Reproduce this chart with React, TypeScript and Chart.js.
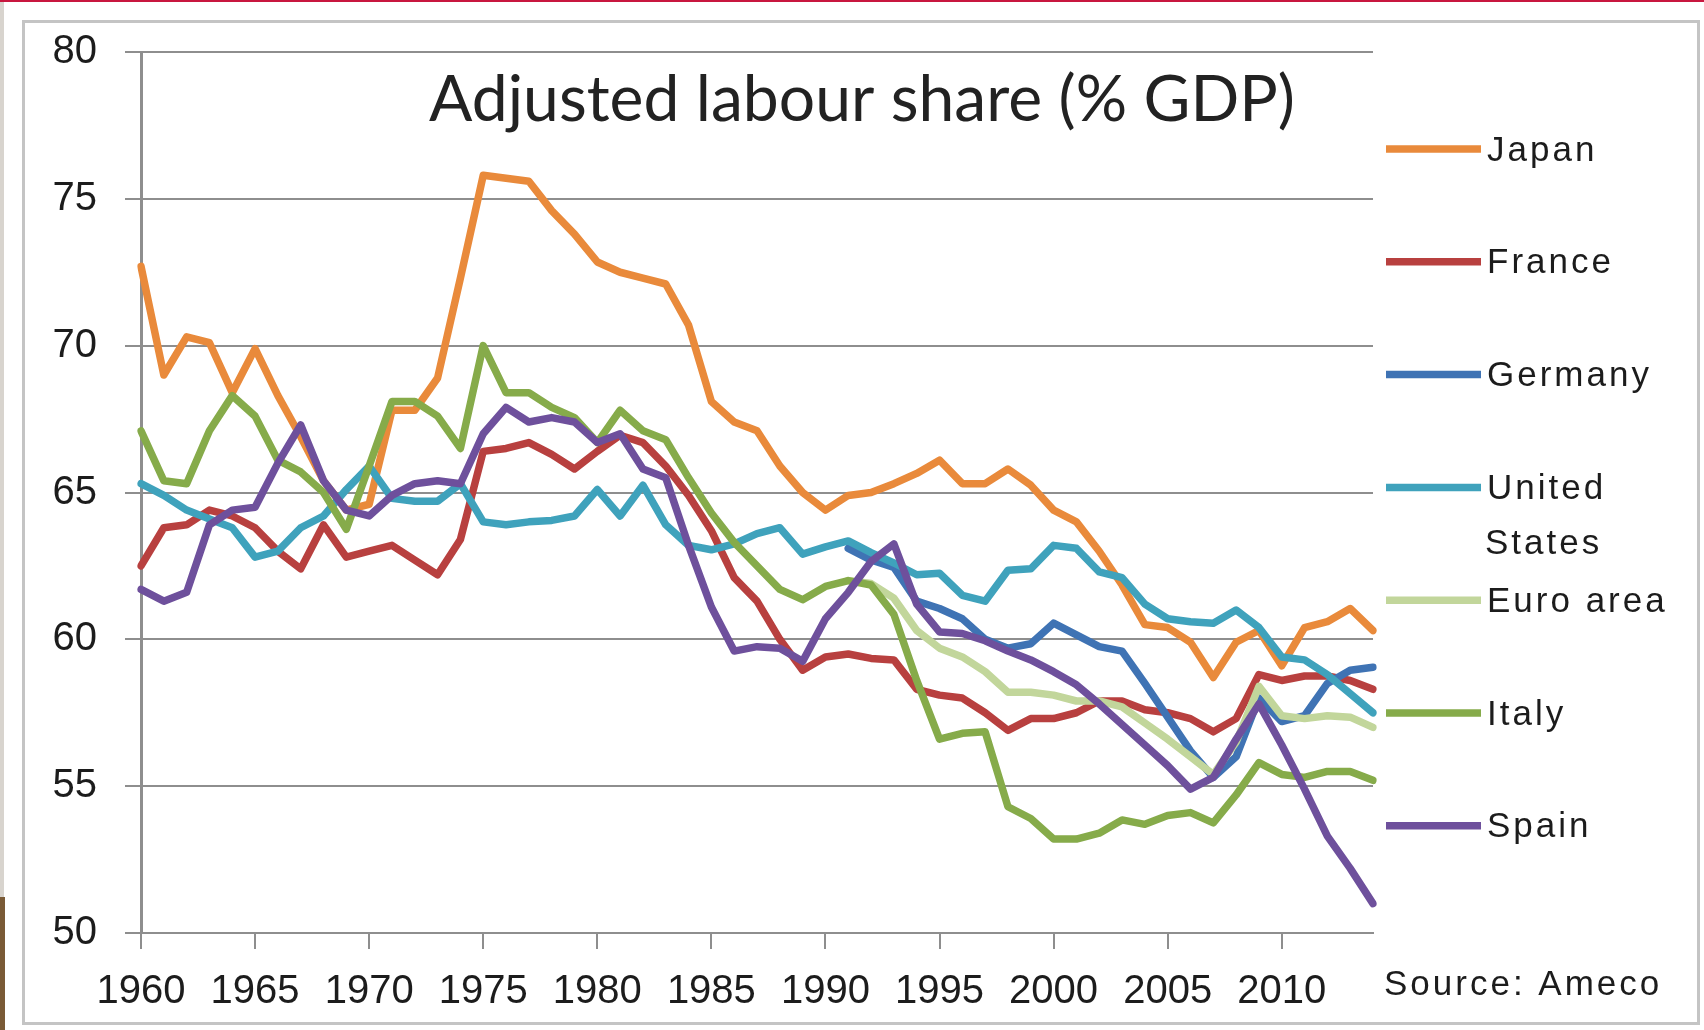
import React, { useEffect, useRef } from "react";
import { Chart, registerables } from "chart.js";

Chart.register(...registerables);

// ---------- DATA ----------
const years: number[] = [
  1960, 1961, 1962, 1963, 1964, 1965, 1966, 1967, 1968, 1969,
  1970, 1971, 1972, 1973, 1974, 1975, 1976, 1977, 1978, 1979,
  1980, 1981, 1982, 1983, 1984, 1985, 1986, 1987, 1988, 1989,
  1990, 1991, 1992, 1993, 1994, 1995, 1996, 1997, 1998, 1999,
  2000, 2001, 2002, 2003, 2004, 2005, 2006, 2007, 2008, 2009,
  2010, 2011, 2012, 2013, 2014,
];

const japan: (number | null)[] = [
  72.7, 69.0, 70.3, 70.1, 68.4, 69.9, 68.3, 66.9, 65.4, 64.4,
  64.6, 67.8, 67.8, 68.9, 72.3, 75.8, 75.7, 75.6, 74.6, 73.8,
  72.85, 72.5, 72.3, 72.1, 70.7, 68.1, 67.4, 67.1, 65.9, 65.0,
  64.4, 64.9, 65.0, 65.3, 65.65, 66.1, 65.3, 65.3, 65.8, 65.25,
  64.4, 64.0, 63.0, 61.85, 60.5, 60.4, 59.9, 58.7, 59.9, 60.3,
  59.1, 60.4, 60.6, 61.05, 60.3,
];

const france: (number | null)[] = [
  62.5, 63.8, 63.9, 64.4, 64.2, 63.8, 63.0, 62.4, 63.9, 62.8,
  63.0, 63.2, 62.7, 62.2, 63.4, 66.4, 66.5, 66.7, 66.3, 65.8,
  66.4, 66.95, 66.7, 65.9, 64.9, 63.7, 62.1, 61.3, 60.0, 58.95,
  59.4, 59.5, 59.35, 59.3, 58.3, 58.1, 58.0, 57.5, 56.9, 57.3,
  57.3, 57.5, 57.9, 57.9, 57.6, 57.5, 57.3, 56.85, 57.3, 58.8,
  58.6, 58.75, 58.75, 58.6, 58.3,
];

const germany: (number | null)[] = [
  null, null, null, null, null, null, null, null, null, null,
  null, null, null, null, null, null, null, null, null, null,
  null, null, null, null, null, null, null, null, null, null,
  null, 63.1, 62.7, 62.45, 61.3, 61.05, 60.7, 60.0, 59.7, 59.85,
  60.55, 60.15, 59.75, 59.6, 58.5, 57.35, 56.2, 55.3, 56.0, 58.0,
  57.2, 57.4, 58.5, 58.95, 59.05,
];

const unitedStates: (number | null)[] = [
  65.3, 64.9, 64.4, 64.1, 63.8, 62.8, 63.0, 63.8, 64.2, 65.1,
  65.9, 64.8, 64.7, 64.7, 65.3, 64.0, 63.9, 64.0, 64.05, 64.2,
  65.1, 64.2, 65.25, 63.9, 63.2, 63.05, 63.25, 63.6, 63.8, 62.9,
  63.15, 63.35, 62.95, 62.6, 62.2, 62.25, 61.5, 61.3, 62.35, 62.4,
  63.2, 63.1, 62.3, 62.1, 61.2, 60.7, 60.6, 60.55, 61.0, 60.4,
  59.4, 59.3, 58.8, 58.15, 57.5,
];

const euroArea: (number | null)[] = [
  null, null, null, null, null, null, null, null, null, null,
  null, null, null, null, null, null, null, null, null, null,
  null, null, null, null, null, null, null, null, null, null,
  null, 62.0, 61.9, 61.4, 60.3, 59.7, 59.4, 58.9, 58.2, 58.2,
  58.1, 57.9, 57.9, 57.7, 57.15, 56.6, 56.0, 55.4, 56.5, 58.4,
  57.4, 57.3, 57.4, 57.35, 57.0,
];

const italy: (number | null)[] = [
  67.1, 65.4, 65.3, 67.1, 68.3, 67.6, 66.1, 65.7, 65.0, 63.75,
  65.9, 68.1, 68.1, 67.6, 66.5, 70.0, 68.4, 68.4, 67.9, 67.55,
  66.7, 67.8, 67.1, 66.8, 65.5, 64.3, 63.3, 62.5, 61.7, 61.35,
  61.8, 62.0, 61.85, 60.85, 58.6, 56.6, 56.8, 56.85, 54.3, 53.9,
  53.2, 53.2, 53.4, 53.85, 53.7, 54.0, 54.1, 53.75, 54.7, 55.8,
  55.4, 55.3, 55.5, 55.5, 55.2,
];

const spain: (number | null)[] = [
  61.7, 61.3, 61.6, 63.9, 64.4, 64.5, 66.0, 67.3, 65.4, 64.4,
  64.2, 64.9, 65.3, 65.4, 65.3, 67.0, 67.9, 67.4, 67.55, 67.4,
  66.7, 67.0, 65.8, 65.5, 63.2, 61.1, 59.6, 59.75, 59.7, 59.25,
  60.7, 61.6, 62.65, 63.25, 61.2, 60.25, 60.2, 59.95, 59.6, 59.3,
  58.9, 58.45, 57.8, 57.1, 56.4, 55.7, 54.9, 55.3, 56.6, 57.8,
  56.4, 54.9, 53.3, 52.2, 51.0,
];

const seriesNames: string[] = [
  "Japan", "France", "Germany", "United States", "Euro area", "Italy", "Spain",
];
const legendLines: string[][] = [
  ["Japan"], ["France"], ["Germany"], ["United", "States"], ["Euro area"], ["Italy"], ["Spain"],
];
const seriesValues = [japan, france, germany, unitedStates, euroArea, italy, spain];
const seriesColors: string[] = [
  "#E98A3B", "#B8403F", "#3F73B4", "#3FA2BC", "#C2D69B", "#86AB4A", "#6E509C",
];

const titleText = "Adjusted labour share (% GDP)";
const sourceText = "Source: Ameco";
const yTickValues: number[] = [50, 55, 60, 65, 70, 75, 80];

const GRID = "#8e8e8e";
const TEXT = "#1c1c1c";
const LINE_W = 7.5;

const overlayPlugin = {
  id: "overlayTexts",
  afterDraw(chart: any) {
    const ctx: CanvasRenderingContext2D = chart.ctx;
    ctx.save();
    // Title
    ctx.fillStyle = "#222222";
    ctx.font = '64px Lato, "Open Sans", sans-serif';
    ctx.textBaseline = "middle";
    ctx.textAlign = "center";
    const w = ctx.measureText(titleText).width;
    const sx = 866 / w;
    ctx.save();
    ctx.translate(862, 100);
    ctx.scale(sx, 1);
    ctx.fillText(titleText, 0, 0);
    ctx.restore();

    // Legend
    ctx.font = '35px "Liberation Sans", Arial, sans-serif';
    (ctx as any).letterSpacing = "3px";
    ctx.textAlign = "left";
    ctx.textBaseline = "middle";
    chart.data.datasets.forEach((ds: any, i: number) => {
      const y = 149 + i * 112.8;
      ctx.strokeStyle = ds.borderColor;
      ctx.lineWidth = LINE_W;
      ctx.lineCap = "butt";
      ctx.beginPath();
      ctx.moveTo(1386, y);
      ctx.lineTo(1481, y);
      ctx.stroke();
      ctx.fillStyle = TEXT;
      const lines = legendLines[i];
      lines.forEach((t, j) => {
        ctx.fillText(t, j === 0 ? 1487 : 1485, y + 2 + j * 55);
      });
    });

    // Source
    ctx.fillText(sourceText, 1384, 985);
    ctx.restore();
  },
};

export default function App() {
  const canvasRef = useRef<HTMLCanvasElement | null>(null);

  useEffect(() => {
    if (!canvasRef.current) return;
    const datasets = seriesNames.map((name, i) => ({
      label: name,
      data: seriesValues[i],
      borderColor: seriesColors[i],
      backgroundColor: seriesColors[i],
      borderWidth: LINE_W,
      pointRadius: 0,
      tension: 0,
      fill: false,
      spanGaps: false,
      borderJoinStyle: "round" as const,
      borderCapStyle: "round" as const,
      order: seriesNames.length - i,
    }));

    const chart = new Chart(canvasRef.current, {
      type: "line",
      data: { labels: years.map(String), datasets },
      options: {
        responsive: false,
        animation: false,
        devicePixelRatio: 1,
        layout: { padding: { left: 0, top: 51, right: 331, bottom: 0 } },
        plugins: {
          legend: { display: false },
          title: { display: false },
          tooltip: { enabled: false },
        },
        scales: {
          x: {
            type: "category",
            offset: false,
            grid: {
              drawOnChartArea: false,
              drawTicks: true,
              tickLength: 16,
              lineWidth: 2,
              color: (c: any) =>
                years[c.index] !== undefined && years[c.index] % 5 === 0 ? GRID : "rgba(0,0,0,0)",
            },
            border: { display: true, color: GRID, width: 2 },
            ticks: {
              autoSkip: false,
              maxRotation: 0,
              minRotation: 0,
              padding: 19,
              color: TEXT,
              font: { family: '"Liberation Sans", Arial, sans-serif', size: 40 },
              callback: (_v: any, idx: number) =>
                years[idx] % 5 === 0 ? String(years[idx]) : "",
            },
            afterFit: (scale: any) => {
              scale.height = 97;
            },
          },
          y: {
            min: yTickValues[0],
            max: yTickValues[yTickValues.length - 1],
            afterBuildTicks: (scale: any) => {
              scale.ticks = yTickValues.map((v) => ({ value: v }));
            },
            grid: { color: GRID, lineWidth: 2, tickLength: 16, drawTicks: true },
            border: { display: true, color: GRID, width: 3 },
            ticks: {
              padding: 28,
              color: TEXT,
              font: { family: '"Liberation Sans", Arial, sans-serif', size: 40 },
            },
            afterFit: (scale: any) => {
              scale.width = 141;
            },
          },
        },
      },
      plugins: [overlayPlugin],
    });
    return () => chart.destroy();
  }, []);

  return (
    <div
      style={{
        position: "absolute",
        left: 0,
        top: 0,
        width: 1704,
        height: 1030,
        background: "#ffffff",
        overflow: "hidden",
      }}
    >
      <div style={{ position: "absolute", left: 0, top: 0, width: 1704, height: 2, background: "#C8173F" }} />
      <div style={{ position: "absolute", left: 0, top: 2, width: 4, height: 895, background: "#D8D4CE" }} />
      <div style={{ position: "absolute", left: 0, top: 897, width: 5, height: 133, background: "#7A5A36" }} />
      <div
        style={{
          position: "absolute",
          left: 22,
          top: 20,
          width: 1678,
          height: 1005,
          border: "3px solid #C4C4C4",
          boxSizing: "border-box",
        }}
      />
      <canvas
        ref={canvasRef}
        width={1704}
        height={1030}
        style={{ position: "absolute", left: 0, top: 0, display: "block" }}
      />
    </div>
  );
}
